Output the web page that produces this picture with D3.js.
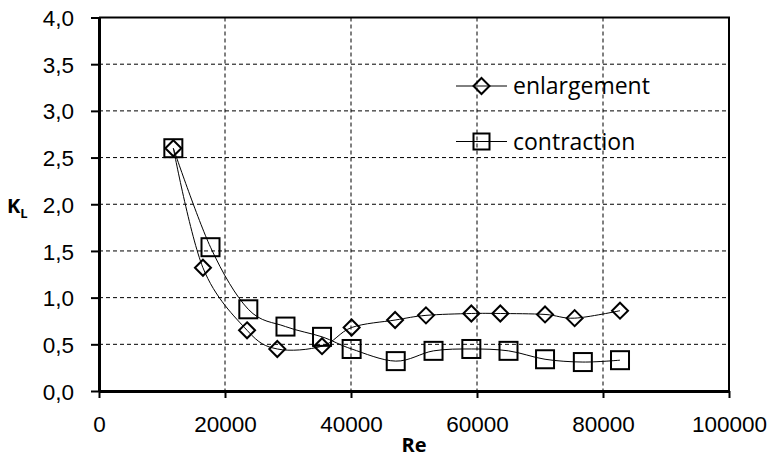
<!DOCTYPE html>
<html>
<head>
<meta charset="utf-8">
<script src="https://cdn.jsdelivr.net/npm/d3@7"></script>
<style>
  body { margin: 0; background: #fff; }
  svg { font-family: "Open Sans", "Noto Sans", sans-serif; }
</style>
</head>
<body>
<div id="chart"></div>
<script>
// data
const reEnlargement = [11800, 16500, 23500, 28300, 35400, 40100, 47000, 51900, 59100, 63700, 70800, 75500, 82700];
const kEnlargement  = [2.60, 1.32, 0.65, 0.45, 0.48, 0.68, 0.76, 0.81, 0.83, 0.83, 0.82, 0.78, 0.86];
const reContraction = [11800, 17700, 23700, 29600, 35400, 40100, 47100, 53100, 59100, 65000, 70800, 76800, 82700];
const kContraction  = [2.60, 1.54, 0.875, 0.69, 0.58, 0.45, 0.32, 0.43, 0.45, 0.43, 0.34, 0.31, 0.33];
const xTicks = [0, 20000, 40000, 60000, 80000, 100000];
const yTicks = [0, 0.5, 1.0, 1.5, 2.0, 2.5, 3.0, 3.5, 4.0];
const seriesNames = ["enlargement", "contraction"];

// set the dimensions and margins of the graph
const W = 774, H = 463;
const margin = {top: 17.5, right: 45, bottom: 72, left: 99};
const width = W - margin.left - margin.right,
      height = H - margin.top - margin.bottom;

const svg = d3.select("#chart")
  .append("svg")
    .attr("width", W)
    .attr("height", H);

const g = svg.append("g")
  .attr("transform", `translate(${margin.left},${margin.top})`);

const x = d3.scaleLinear().domain([0, 100000]).range([0, width]);
const y = d3.scaleLinear().domain([0, 4]).range([height, 0]);

const commaFmt = d3.formatLocale({decimal: ",", thousands: "", grouping: [3], currency: ["", ""]}).format(".1f");

// grid
g.append("g")
  .selectAll("line")
  .data(yTicks.filter(d => d > 0 && d < 4))
  .join("line")
    .attr("x1", 0).attr("x2", width)
    .attr("y1", d => y(d)).attr("y2", d => y(d))
    .attr("stroke", "#000").attr("stroke-width", 1)
    .attr("stroke-dasharray", "4,3");

g.append("g")
  .selectAll("line")
  .data(xTicks.filter(d => d > 0 && d < 100000))
  .join("line")
    .attr("x1", d => x(d)).attr("x2", d => x(d))
    .attr("y1", 0).attr("y2", height)
    .attr("stroke", "#000").attr("stroke-width", 1)
    .attr("stroke-dasharray", "4,3");

// top and right border
g.append("path")
  .attr("d", `M0,0H${width}V${height}`)
  .attr("fill", "none")
  .attr("stroke", "#000")
  .attr("stroke-width", 2);

// X axis
const xAxis = g.append("g")
  .attr("transform", `translate(0,${height})`)
  .call(d3.axisBottom(x).tickValues(xTicks).tickFormat(d3.format("d")).tickSize(7).tickSizeOuter(0));
xAxis.select(".domain").attr("stroke-width", 3);
xAxis.selectAll(".tick line").attr("stroke-width", 2);
xAxis.selectAll(".tick text")
  .attr("y", 41).attr("dy", null)
  .style("font-size", "22.5px").attr("fill", "#000");

// Y axis
const yAxis = g.append("g")
  .call(d3.axisLeft(y).tickValues(yTicks).tickFormat(commaFmt).tickSize(8).tickSizeOuter(0));
yAxis.select(".domain").attr("stroke-width", 3);
yAxis.selectAll(".tick line").attr("stroke-width", 2);
yAxis.selectAll(".tick text")
  .attr("x", -25)
  .attr("dy", "0.36em")
  .style("font-size", "22.5px").attr("fill", "#000");

// axis labels
svg.append("text")
  .attr("x", margin.left + width / 2)
  .attr("y", 452)
  .attr("text-anchor", "middle")
  .style("font-size", "20px").style("font-weight", "bold")
  .text("Re");

const kl = svg.append("text")
  .attr("x", 7)
  .attr("y", 213)
  .style("font-size", "20px").style("font-weight", "bold");
kl.append("tspan").text("K");
kl.append("tspan").attr("dy", 5).style("font-size", "13px").text("L");

// lines
const line = d3.line()
  .x(d => x(d[0]))
  .y(d => y(d[1]))
  .curve(d3.curveCardinal.tension(0));

const enl = reEnlargement.map((r, i) => [r, kEnlargement[i]]);
const con = reContraction.map((r, i) => [r, kContraction[i]]);

g.append("path").datum(enl)
  .attr("d", line).attr("fill", "none").attr("stroke", "#000").attr("stroke-width", 1);
g.append("path").datum(con)
  .attr("d", line).attr("fill", "none").attr("stroke", "#000").attr("stroke-width", 1);

// markers
const diamond = s => `M0,${-s}L${s},0L0,${s}L${-s},0Z`;

g.append("g").selectAll("rect")
  .data(con)
  .join("rect")
    .attr("x", d => x(d[0]) - 9)
    .attr("y", d => y(d[1]) - 9)
    .attr("width", 18).attr("height", 18)
    .attr("fill", "none").attr("stroke", "#000").attr("stroke-width", 2);

g.append("g").selectAll("path")
  .data(enl)
  .join("path")
    .attr("transform", d => `translate(${x(d[0])},${y(d[1])})`)
    .attr("d", diamond(8))
    .attr("fill", "none").attr("stroke", "#000").attr("stroke-width", 2);

// legend
const legend = svg.append("g");
const rows = [86, 141.5];
seriesNames.forEach((name, i) => {
  const ly = rows[i];
  legend.append("line")
    .attr("x1", 456).attr("x2", 507).attr("y1", ly).attr("y2", ly)
    .attr("stroke", "#000").attr("stroke-width", 1);
  if (i === 0) {
    legend.append("path")
      .attr("transform", `translate(481.5,${ly})`)
      .attr("d", diamond(8))
      .attr("fill", "none").attr("stroke", "#000").attr("stroke-width", 2);
  } else {
    legend.append("rect")
      .attr("x", 473.5).attr("y", ly - 8).attr("width", 16).attr("height", 16)
      .attr("fill", "none").attr("stroke", "#000").attr("stroke-width", 2);
  }
  legend.append("text")
    .attr("x", 513).attr("y", ly + 8)
    .style("font-size", "23px")
    .text(name);
});
</script>
</body>
</html>
